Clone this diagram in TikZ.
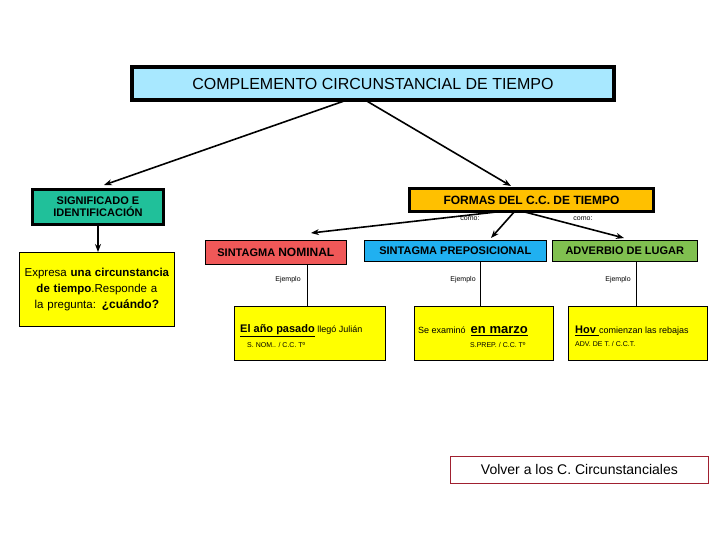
\documentclass[tikz,border=0pt]{standalone}
\usepackage{fontspec}
\setmainfont{Liberation Sans}
\usetikzlibrary{arrows.meta}
\definecolor{ttl}{HTML}{A8E8FF}
\definecolor{teal1}{HTML}{20C09A}
\definecolor{orng}{HTML}{FFC000}
\definecolor{redb}{HTML}{F05858}
\definecolor{blueb}{HTML}{20B0F0}
\definecolor{greenb}{HTML}{80C050}
\definecolor{yel}{HTML}{FFFF00}
\definecolor{dred}{HTML}{A02030}
\begin{document}
\begin{tikzpicture}[x=1pt,y=-1pt,
  box/.style={draw=black,anchor=north west,inner sep=0pt,align=center},
  arr/.style={-{Stealth[length=8pt,width=6pt]},line width=1.6pt},
  lbl/.style={font=\fontsize{7}{8}\selectfont}]
\useasboundingbox[fill=white] (0,0) rectangle (720,540);
% title
\node[box,line width=4pt,fill=ttl,minimum width=482,minimum height=33,font=\fontsize{16}{18}\selectfont] (t) at (130,65) {COMPLEMENTO CIRCUNSTANCIAL DE TIEMPO};
\node[box,line width=3pt,fill=teal1,minimum width=131,minimum height=35,font=\bfseries\fontsize{11}{12}\selectfont] (s) at (31,188) {SIGNIFICADO E\\IDENTIFICACIÓN};
\node[box,line width=0.8pt,fill=yel,text width=155,minimum height=74,font=\fontsize{11.5}{16}\selectfont] (e) at (19,252) {Expresa \textbf{una circunstancia de tiempo}.Responde a la pregunta: \textbf{\large ¿cuándo?}};
\node[box,line width=3pt,fill=orng,minimum width=244,minimum height=23,font=\bfseries\fontsize{12}{14}\selectfont] (f) at (408,187) {FORMAS DEL C.C. DE TIEMPO};
\node[box,line width=0.6pt,fill=redb,minimum width=141,minimum height=24,font=\bfseries\fontsize{11}{13}\selectfont] (sn) at (205,240) {SINTAGMA \large NOMINAL};
\node[box,line width=0.6pt,fill=blueb,minimum width=182,minimum height=21,font=\bfseries\fontsize{11}{13}\selectfont] (sp) at (364,240) {SINTAGMA PREPOSICIONAL};
\node[box,line width=0.6pt,fill=greenb,minimum width=145,minimum height=21,font=\bfseries\fontsize{11}{13}\selectfont] (ad) at (552,240) {ADVERBIO DE LUGAR};
% examples
\node[box,line width=0.7pt,fill=yel,minimum width=151,minimum height=54] (x1) at (234,306) {};
\node[box,line width=0.7pt,fill=yel,minimum width=139,minimum height=54] (x2) at (414,306) {};
\node[box,line width=0.7pt,fill=yel,minimum width=139,minimum height=54] (x3) at (568,306) {};
\node[anchor=west,font=\fontsize{9}{10}\selectfont,inner sep=0pt] (x1a) at (240,331) {\textbf{\fontsize{11}{12}\selectfont\underline{El año pasado}} llegó Julián};
\node[anchor=west,font=\fontsize{7}{8}\selectfont,inner sep=0pt] (x1b) at (247,345) {S. NOM.. / C.C. Tº};
\node[anchor=west,font=\fontsize{9}{10}\selectfont,inner sep=0pt] (x2a) at (418,331) {Se examinó \ \textbf{\fontsize{13}{14}\selectfont\underline{en marzo}}};
\node[anchor=west,font=\fontsize{7}{8}\selectfont,inner sep=0pt] (x2b) at (470,345) {S.PREP. / C.C. Tº};
\node[anchor=west,font=\fontsize{9}{10}\selectfont,inner sep=0pt] (x3a) at (575,331) {\textbf{\fontsize{11}{12}\selectfont\underline{Hov }}comienzan las rebajas};
\node[anchor=west,font=\fontsize{7}{8}\selectfont,inner sep=0pt] (x3b) at (575,344) {ADV. DE T. / C.C.T.};
\node[box,draw=dred,line width=0.8pt,fill=white,minimum width=258,minimum height=27,font=\fontsize{14}{16}\selectfont] (v) at (450,456) {Volver a los C. Circunstanciales};
% arrows
\draw[arr] (347,100) -- (104,185);
\draw[arr] (365,100) -- (511,186);
\draw[arr] (505,211) -- (311,233);
\draw[arr] (515,211) -- (491,238);
\draw[arr] (521,211) -- (624,238);
\draw[arr] (s.south) -- (e.north -| s.south);
\draw[line width=0.6pt] (sn.south -| 307,0) -- (x1.north -| 307,0);
\draw[line width=0.6pt] (sp.south -| 480,0) -- (x2.north -| 480,0);
\draw[line width=0.6pt] (ad.south -| 636,0) -- (x3.north -| 636,0);
\node[lbl] (e1) at (288,280) {Ejemplo};
\node[lbl] (e2) at (463,280) {Ejemplo};
\node[lbl] (e3) at (618,280) {Ejemplo};
\node[lbl] (c1) at (470,219) {como:};
\node[lbl] (c2) at (583,219) {como:};
\end{tikzpicture}
\end{document}
